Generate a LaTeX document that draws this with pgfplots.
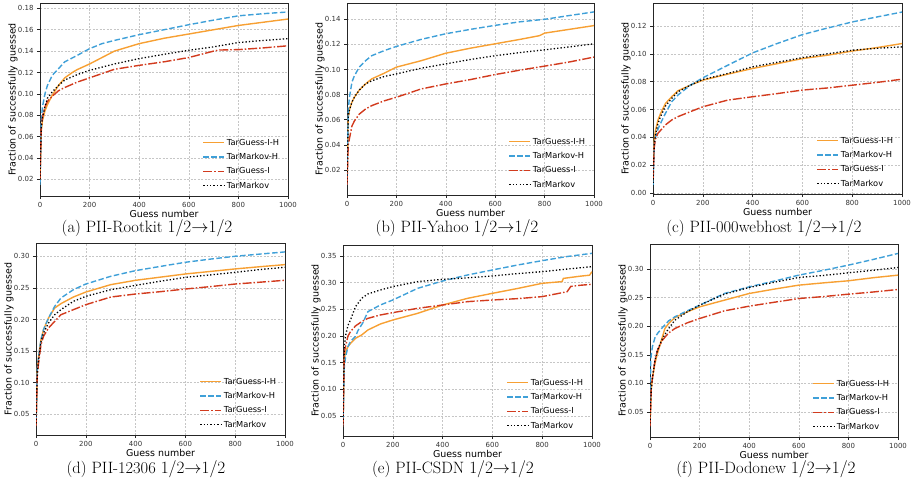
\documentclass[border=0pt]{standalone}
\usepackage{fontspec}
\usepackage{pgfplots}
\pgfplotsset{compat=1.18}
\newfontfamily\dejavu{DejaVu Sans}
\definecolor{cOrange}{HTML}{F7A033}
\definecolor{cBlue}{HTML}{3FA0D8}
\definecolor{cRed}{HTML}{D23B1E}

\pgfplotsset{
  panel/.style={
    scale only axis,
    anchor=south west,
    xmin=0, xmax=1000,
    xtick={0,200,400,600,800,1000},
    scaled y ticks=false,
    /pgf/number format/1000 sep={},
    /pgf/number format/assume math mode=true,
    yticklabel style={/pgf/number format/.cd, fixed, fixed zerofill, precision=2},
    tick label style={font=\dejavu\fontsize{7}{8}\selectfont, text=black!80},
    label style={font=\dejavu\fontsize{9.5}{11}\selectfont},
    xlabel={Guess number},
    ylabel={Fraction of successfully guessed},
    xlabel style={inner sep=0pt, yshift=1bp},
    ylabel style={yshift=-6.5bp},
    axis line style={black!85, line width=0.8bp},
    tick style={black!85, line width=0.6bp},
    tick align=outside,
    major tick length=3bp,
    xtick pos=bottom, ytick pos=left,
    grid=major,
    major grid style={gray!45, dash pattern=on 2bp off 1.5bp, line width=0.6bp},
    legend style={at={(0.985,0.012)}, anchor=south east, draw=none, fill=none,
      font=\dejavu\fontsize{8.3}{10}\selectfont, row sep=2.6bp,
      /tikz/every even column/.append style={column sep=3bp}},
    legend cell align=left,
    legend image code/.code={\draw[mark repeat=2,mark phase=2,#1]
      plot coordinates {(0bp,0bp) (10bp,0bp) (21bp,0bp)};},
  },
  sOr/.style={color=cOrange, line width=1.4bp},
  sBl/.style={color=cBlue, line width=1.4bp, dash pattern=on 5.5bp off 2.5bp},
  sRd/.style={color=cRed, line width=1.4bp, dash pattern=on 9bp off 2bp on 1.5bp off 2bp},
  sBk/.style={color=black, line width=1.3bp, dash pattern=on 1.3bp off 2.1bp},
}

\begin{document}
\begin{tikzpicture}
\path[use as bounding box] (0bp,0bp) rectangle (917bp,-483bp);

% (a) Rootkit
\begin{axis}[panel, at={(40bp,-196bp)}, width=248bp, height=193bp,
  ymin=0.0045, ymax=0.185, ytick={0.02,0.04,0.06,0.08,0.10,0.12,0.14,0.16,0.18}]
\addplot[sOr] coordinates {(0,0.02) (5,0.065) (10,0.075) (20,0.084) (30,0.09) (50,0.099) (75,0.108) (100,0.115) (130,0.12) (150,0.1227) (200,0.128) (300,0.140) (400,0.147) (500,0.152) (600,0.156) (700,0.160) (800,0.164) (900,0.167) (1000,0.170)};
\addplot[sBl] coordinates {(0,0.015) (5,0.075) (10,0.088) (20,0.10) (30,0.108) (50,0.1175) (60,0.12) (75,0.1237) (100,0.130) (150,0.136) (200,0.1423) (250,0.147) (300,0.150) (400,0.1554) (500,0.160) (600,0.1647) (700,0.169) (800,0.173) (900,0.175) (1000,0.1766)};
\addplot[sRd] coordinates {(0,0.02) (5,0.068) (10,0.078) (20,0.088) (30,0.093) (50,0.098) (75,0.103) (100,0.106) (150,0.111) (200,0.115) (300,0.123) (400,0.1267) (500,0.130) (600,0.134) (700,0.140) (720,0.141) (800,0.1414) (900,0.143) (1000,0.145)};
\addplot[sBk] coordinates {(0,0.02) (5,0.068) (10,0.078) (20,0.088) (30,0.096) (50,0.102) (75,0.108) (100,0.113) (150,0.118) (200,0.122) (300,0.128) (400,0.133) (500,0.137) (600,0.1408) (700,0.144) (800,0.148) (900,0.150) (1000,0.1517)};
\legend{TarGuess-I-H,TarMarkov-H,TarGuess-I,TarMarkov}
\end{axis}

% (b) Yahoo
\begin{axis}[panel, at={(347bp,-195bp)}, width=247bp, height=192bp,
  ymin=0, ymax=0.153, ytick={0.02,0.04,0.06,0.08,0.10,0.12,0.14}]
\addplot[sOr] coordinates {(0,0.01) (5,0.062) (10,0.068) (20,0.074) (30,0.078) (50,0.0837) (75,0.0885) (100,0.0925) (150,0.097) (200,0.1019) (300,0.107) (400,0.113) (500,0.117) (600,0.1205) (700,0.124) (780,0.127) (800,0.129) (900,0.132) (1000,0.135)};
\addplot[sBl] coordinates {(0,0.008) (5,0.068) (10,0.078) (20,0.09) (30,0.095) (50,0.102) (75,0.107) (100,0.111) (150,0.115) (200,0.1184) (300,0.124) (400,0.1285) (500,0.132) (600,0.1352) (700,0.138) (800,0.140) (900,0.143) (1000,0.1459)};
\addplot[sRd] coordinates {(0,0.008) (5,0.04) (10,0.045) (20,0.055) (30,0.059) (50,0.0645) (75,0.0685) (100,0.0712) (150,0.075) (200,0.0779) (300,0.0845) (400,0.0885) (500,0.092) (600,0.096) (700,0.0995) (800,0.1027) (900,0.106) (1000,0.1099)};
\addplot[sBk] coordinates {(0,0.01) (5,0.062) (10,0.068) (20,0.074) (30,0.078) (50,0.0837) (75,0.0885) (100,0.091) (150,0.0944) (200,0.0965) (300,0.101) (400,0.1045) (500,0.108) (600,0.111) (700,0.1135) (800,0.1157) (900,0.118) (1000,0.1205)};
\legend{TarGuess-I-H,TarMarkov-H,TarGuess-I,TarMarkov}
\end{axis}

% (c) 000webhost
\begin{axis}[panel, at={(653bp,-194bp)}, width=249bp, height=191bp,
  ymin=-0.0006, ymax=0.1365, ytick={0,0.02,0.04,0.06,0.08,0.10,0.12}]
\addplot[sOr] coordinates {(0,0.02) (5,0.038) (10,0.045) (20,0.0525) (30,0.057) (50,0.0644) (75,0.0692) (100,0.0735) (150,0.0775) (200,0.0811) (300,0.0854) (400,0.0895) (500,0.093) (600,0.0966) (700,0.099) (800,0.102) (900,0.1045) (1000,0.1074)};
\addplot[sBl] coordinates {(0,0.005) (5,0.035) (10,0.04) (20,0.046) (30,0.050) (50,0.0573) (75,0.0656) (100,0.0704) (150,0.0775) (200,0.0828) (300,0.0918) (400,0.1007) (500,0.1075) (600,0.1138) (700,0.1185) (800,0.1229) (900,0.1265) (1000,0.130)};
\addplot[sRd] coordinates {(0,0.01) (5,0.033) (10,0.039) (20,0.043) (30,0.045) (50,0.049) (75,0.0525) (100,0.0549) (150,0.0585) (200,0.062) (300,0.0668) (400,0.0692) (500,0.0715) (600,0.074) (700,0.0755) (800,0.0775) (900,0.0795) (1000,0.0818)};
\addplot[sBk] coordinates {(0,0.005) (5,0.035) (10,0.042) (20,0.05) (30,0.0549) (50,0.0625) (75,0.068) (100,0.0728) (150,0.0775) (200,0.0816) (300,0.0859) (400,0.0907) (500,0.094) (600,0.0973) (700,0.100) (800,0.1026) (900,0.104) (1000,0.105)};
\legend{TarGuess-I-H,TarMarkov-H,TarGuess-I,TarMarkov}
\end{axis}

% (d) 12306
\begin{axis}[panel, at={(36bp,-435bp)}, width=249bp, height=192bp,
  ymin=0.0172, ymax=0.321, ytick={0.05,0.10,0.15,0.20,0.25,0.30}]
\addplot[sOr] coordinates {(0,0.03) (5,0.12) (10,0.14) (20,0.168) (30,0.1837) (50,0.2022) (75,0.2181) (100,0.225) (150,0.2355) (200,0.2434) (300,0.2551) (400,0.262) (500,0.267) (600,0.272) (700,0.276) (800,0.280) (900,0.2835) (1000,0.2868)};
\addplot[sBl] coordinates {(0,0.03) (5,0.12) (10,0.14) (20,0.1679) (30,0.1837) (50,0.2022) (75,0.2207) (100,0.2339) (150,0.2471) (200,0.2561) (300,0.2683) (400,0.2773) (500,0.284) (600,0.2905) (700,0.2955) (800,0.300) (900,0.3035) (1000,0.3069)};
\addplot[sRd] coordinates {(0,0.03) (5,0.11) (10,0.13) (20,0.16) (30,0.1732) (50,0.1864) (75,0.197) (100,0.2075) (150,0.2155) (200,0.2234) (300,0.2355) (400,0.2403) (500,0.244) (600,0.2482) (700,0.252) (800,0.2561) (900,0.259) (1000,0.262)};
\addplot[sBk] coordinates {(0,0.03) (5,0.115) (10,0.135) (20,0.165) (30,0.1784) (50,0.1943) (75,0.2075) (100,0.2155) (150,0.2287) (200,0.2366) (300,0.2471) (400,0.254) (500,0.2605) (600,0.2667) (700,0.2705) (800,0.2746) (900,0.279) (1000,0.2826)};
\legend{TarGuess-I-H,TarMarkov-H,TarGuess-I,TarMarkov}
\end{axis}

% (e) CSDN
\begin{axis}[panel, at={(343bp,-436bp)}, width=249bp, height=191bp,
  ymin=0.0125, ymax=0.3706, ytick={0.05,0.10,0.15,0.20,0.25,0.30,0.35}]
\addplot[sOr] coordinates {(0,0.03) (5,0.155) (10,0.17) (20,0.18) (30,0.186) (50,0.1956) (75,0.2019) (100,0.2113) (150,0.2225) (200,0.23) (300,0.2425) (400,0.2581) (500,0.2706) (600,0.28) (700,0.289) (800,0.2988) (880,0.302) (885,0.308) (950,0.312) (990,0.314) (1000,0.3206)};
\addplot[sBl] coordinates {(0,0.03) (5,0.14) (10,0.16) (20,0.18) (30,0.19) (50,0.199) (60,0.21) (80,0.225) (100,0.2456) (150,0.2581) (200,0.2675) (300,0.2894) (400,0.3031) (500,0.3144) (600,0.3238) (700,0.333) (800,0.3413) (900,0.349) (1000,0.355)};
\addplot[sRd] coordinates {(0,0.03) (5,0.17) (10,0.18) (20,0.2) (30,0.2081) (50,0.2188) (75,0.2269) (100,0.2331) (150,0.2394) (200,0.2438) (300,0.2519) (400,0.2581) (500,0.2644) (600,0.2675) (700,0.270) (800,0.2738) (900,0.283) (915,0.293) (950,0.295) (1000,0.2969)};
\addplot[sBk] coordinates {(0,0.03) (5,0.18) (10,0.20) (20,0.22) (30,0.23) (50,0.255) (75,0.2706) (100,0.2788) (150,0.2863) (200,0.2925) (300,0.3019) (400,0.3063) (500,0.309) (600,0.3125) (700,0.317) (800,0.3206) (900,0.3255) (1000,0.330)};
\legend{TarGuess-I-H,TarMarkov-H,TarGuess-I,TarMarkov}
\end{axis}

% (f) Dodonew
\begin{axis}[panel, at={(650bp,-437bp)}, width=248bp, height=193bp,
  ymin=0.0062, ymax=0.344, ytick={0.05,0.10,0.15,0.20,0.25,0.30}]
\addplot[sOr] coordinates {(0,0.03) (5,0.09) (10,0.11) (20,0.135) (30,0.1522) (50,0.1814) (60,0.196) (75,0.2048) (100,0.2153) (150,0.2252) (200,0.234) (300,0.2457) (400,0.2574) (500,0.265) (600,0.272) (700,0.276) (800,0.2796) (900,0.285) (1000,0.2895)};
\addplot[sBl] coordinates {(0,0.06) (3,0.14) (5,0.15) (10,0.165) (20,0.18) (30,0.1873) (50,0.1978) (75,0.2095) (100,0.2165) (150,0.227) (200,0.2369) (300,0.2574) (400,0.269) (500,0.279) (600,0.2895) (700,0.298) (800,0.307) (900,0.317) (1000,0.3275)};
\addplot[sRd] coordinates {(0,0.025) (5,0.09) (10,0.11) (20,0.14) (30,0.158) (50,0.1756) (75,0.1884) (100,0.196) (150,0.206) (200,0.2136) (300,0.227) (400,0.2352) (500,0.242) (600,0.2486) (700,0.252) (800,0.2562) (900,0.260) (1000,0.2644)};
\addplot[sBk] coordinates {(0,0.03) (5,0.09) (10,0.11) (20,0.14) (30,0.158) (50,0.1785) (75,0.196) (100,0.2106) (150,0.2252) (200,0.2369) (300,0.2562) (400,0.2679) (500,0.277) (600,0.2854) (700,0.289) (800,0.2936) (900,0.298) (1000,0.3029)};
\legend{TarGuess-I-H,TarMarkov-H,TarGuess-I,TarMarkov}
\end{axis}

% sub-captions
\begin{scope}[every node/.style={inner sep=0pt, font=\fontsize{16.5}{19}\selectfont}]
\node at (147bp,-228bp) {(a) PII-Rootkit $1/2{\rightarrow}1/2$};
\node at (457bp,-228bp) {(b) PII-Yahoo $1/2{\rightarrow}1/2$};
\node at (764bp,-228bp) {(c) PII-000webhost $1/2{\rightarrow}1/2$};
\node at (146bp,-469bp) {(d) PII-12306 $1/2{\rightarrow}1/2$};
\node at (453bp,-469bp) {(e) PII-CSDN $1/2{\rightarrow}1/2$};
\node at (766bp,-469bp) {(f) PII-Dodonew $1/2{\rightarrow}1/2$};
\end{scope}
\end{tikzpicture}
\end{document}
